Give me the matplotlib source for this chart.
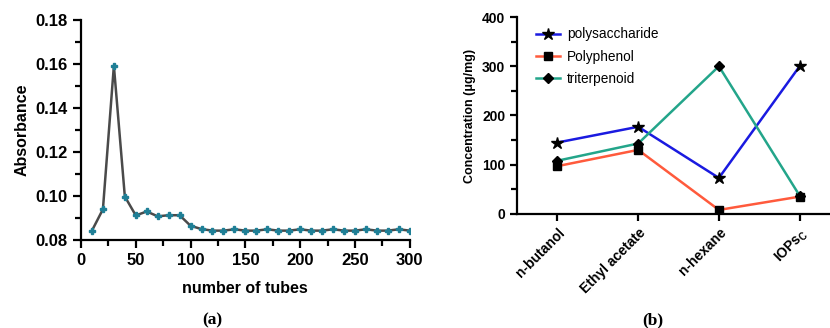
import numpy as np
import matplotlib.pyplot as plt
from matplotlib.ticker import MultipleLocator

plt.rcParams['font.family'] = ['Liberation Sans', 'DejaVu Sans']

# (a) absorbance per tube
tubes = np.arange(10, 301, 10)
absorbance = [0.0843, 0.0940, 0.1592, 0.0998, 0.0912, 0.0930, 0.0908, 0.0913, 0.0913, 0.0865,
              0.0850, 0.0843, 0.0843, 0.0849, 0.0843, 0.0843, 0.0849, 0.0843, 0.0843, 0.0849,
              0.0843, 0.0843, 0.0849, 0.0843, 0.0843, 0.0849, 0.0843, 0.0843, 0.0849, 0.0843]

# (b) concentrations by extract
extracts = ['n-butanol', 'Ethyl acetate', 'n-hexane', 'IOPs$_\\mathregular{C}$']
polysaccharide = [145, 177, 73, 300]
polyphenol = [97, 130, 8, 35]
triterpenoid = [108, 143, 300, 37]

fig = plt.figure(figsize=(8.3, 3.28), dpi=100)

# ---- panel a
ax1 = fig.add_axes([0.0976, 0.268, 0.396, 0.671])
ax1.plot(tubes, absorbance, '-', color='#4a4a4a', lw=1.8, marker='P', ms=4.5,
         mfc='#1f7f96', mec='#1f7f96')
ax1.set_xlim(0, 300)
ax1.set_ylim(0.08, 0.18)
ax1.xaxis.set_major_locator(MultipleLocator(50))
ax1.xaxis.set_minor_locator(MultipleLocator(25))
ax1.yaxis.set_major_locator(MultipleLocator(0.02))
ax1.yaxis.set_minor_locator(MultipleLocator(0.01))
ax1.set_yticks(ax1.get_yticks())
ax1.set_yticklabels(['%.2f' % v for v in ax1.get_yticks()])
ax1.set_ylim(0.08, 0.18)
ax1.set_xlabel('number of tubes', fontsize=11.5, fontweight='bold', labelpad=9)
ax1.set_ylabel('Absorbance', fontsize=11.5, fontweight='bold', labelpad=4)
for s in ['top', 'right']:
    ax1.spines[s].set_visible(False)
for s in ['left', 'bottom']:
    ax1.spines[s].set_linewidth(1.6)
ax1.tick_params(which='major', length=6, width=1.6, labelsize=12)
ax1.tick_params(which='minor', length=4, width=1.6)
for lab in ax1.get_xticklabels() + ax1.get_yticklabels():
    lab.set_fontweight('bold')

# ---- panel b
ax2 = fig.add_axes([0.623, 0.348, 0.39, 0.600])
xs = np.arange(len(extracts))
ax2.plot(xs, polysaccharide, '-', color='#1a1ae0', lw=1.8, marker='*', ms=9,
         mfc='black', mec='black', label='polysaccharide')
ax2.plot(xs, polyphenol, '-', color='#ff5a3c', lw=1.8, marker='s', ms=6,
         mfc='black', mec='black', label='Polyphenol')
ax2.plot(xs, triterpenoid, '-', color='#23a58a', lw=1.8, marker='D', ms=5,
         mfc='black', mec='black', label='triterpenoid')
ax2.set_xlim(-0.5, 3.51)
ax2.set_ylim(0, 400)
ax2.yaxis.set_major_locator(MultipleLocator(100))
ax2.yaxis.set_minor_locator(MultipleLocator(50))
ax2.set_xticks(xs)
ax2.set_xticklabels(extracts, rotation=45, ha='right', rotation_mode='anchor',
                    fontsize=12, fontweight='bold')
ax2.set_ylabel('Concentration (\u03bcg/mg)', fontsize=9, fontweight='bold', labelpad=4)
for s in ['top', 'right']:
    ax2.spines[s].set_visible(False)
for s in ['left', 'bottom']:
    ax2.spines[s].set_linewidth(1.6)
ax2.tick_params(which='major', length=5, width=1.6, labelsize=10)
ax2.tick_params(which='minor', length=4, width=1.6)
for lab in ax2.get_yticklabels():
    lab.set_fontweight('bold')
ax2.legend(loc='upper left', bbox_to_anchor=(0.02, 1.01), frameon=False, fontsize=9.8,
           handlelength=1.8, handletextpad=0.5, labelspacing=0.6)

fig.text(0.256, 0.01, '(a)', family='Liberation Serif', fontweight='bold', fontsize=12.5, ha='center')
fig.text(0.786, 0.01, '(b)', family='Liberation Serif', fontweight='bold', fontsize=12.5, ha='center')

fig.savefig('out.png', dpi=100)
